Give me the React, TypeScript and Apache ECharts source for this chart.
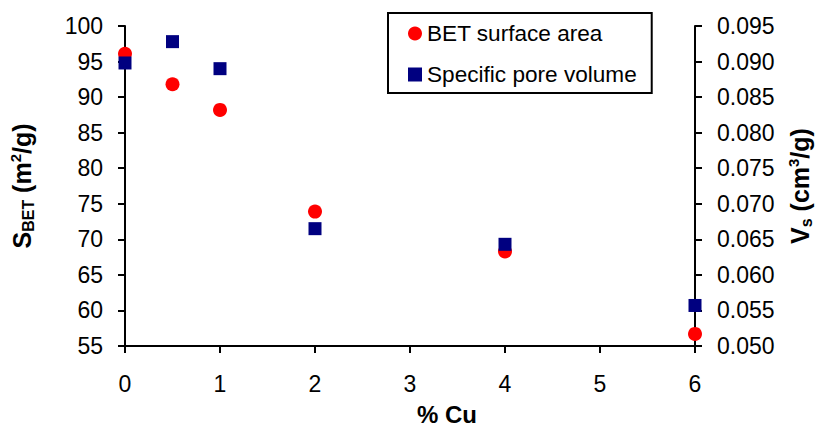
import React, { useEffect, useRef } from "react";
import * as echarts from "echarts";

// Copper loading (%) and the measured textural properties
const cuLoading = [0, 0.5, 1, 2, 4, 6];
const betSurfaceArea = [96.1, 91.8, 88.2, 73.9, 68.3, 56.7]; // m²/g
const specificPoreVolume = [0.0898, 0.0928, 0.089, 0.0665, 0.0643, 0.0557]; // cm³/g

const seriesNames = ["BET surface area", "Specific pore volume"];
const xAxisTitle = "% Cu";

const FONT = "Liberation Sans, Arial, sans-serif";

// Axis titles: bold text with a subscript and a superscript run
const richName = {
  b: { fontSize: 25, fontWeight: "bold", fontFamily: FONT, color: "#000", lineHeight: 28 },
  s: { fontSize: 16, fontWeight: "bold", fontFamily: FONT, color: "#000", lineHeight: 16, verticalAlign: "bottom" },
  sup: { fontSize: 15, fontWeight: "bold", fontFamily: FONT, color: "#000", lineHeight: 16, verticalAlign: "top" },
};

export default function App() {
  const ref = useRef<HTMLDivElement>(null);

  useEffect(() => {
    if (!ref.current) return;
    const chart = echarts.init(ref.current, undefined, { renderer: "svg" });

    const axisLine = { show: true, lineStyle: { color: "#000", width: 2 } };
    const axisTick = { show: true, inside: false, length: 7, lineStyle: { color: "#000", width: 2 } };
    const axisLabel = { color: "#000", fontSize: 23, fontFamily: FONT, margin: 22 };

    chart.setOption({
      animation: false,
      backgroundColor: "#fff",
      textStyle: { fontFamily: FONT },
      grid: {
        left: 125,
        right: 122,
        top: 26,
        bottom: 81,
        containLabel: false,
        outerBoundsMode: "none",
      },
      legend: {
        orient: "vertical",
        left: 388,
        top: 13,
        padding: [9, 15, 7, 20],
        itemGap: 18,
        itemWidth: 14,
        itemHeight: 14,
        borderColor: "#000",
        borderWidth: 2,
        borderRadius: 0,
        backgroundColor: "#fff",
        textStyle: { color: "#000", fontSize: 22.6, fontFamily: FONT },
        data: [
          { name: seriesNames[0], icon: "circle" },
          { name: seriesNames[1], icon: "rect" },
        ],
      },
      xAxis: {
        type: "value",
        min: 0,
        max: 6,
        interval: 1,
        name: xAxisTitle,
        nameLocation: "middle",
        nameGap: 57,
        nameTextStyle: {
          color: "#000",
          fontSize: 24,
          lineHeight: 22,
          fontWeight: "bold",
          fontFamily: FONT,
          padding: [0, 0, 0, 74],
        },
        axisLine,
        axisTick,
        axisLabel: { ...axisLabel, margin: 26 },
        splitLine: { show: false },
      },
      yAxis: [
        {
          type: "value",
          position: "left",
          min: 55,
          max: 100,
          interval: 5,
          name: "{b|S}{s|BET}{b| (m}{sup|2}{b|/g)}",
          nameLocation: "middle",
          nameRotate: 90,
          nameGap: 89,
          nameTextStyle: { rich: richName },
          axisLine,
          axisTick,
          axisLabel,
          splitLine: { show: false },
        },
        {
          type: "value",
          position: "right",
          min: 0.05,
          max: 0.095,
          interval: 0.005,
          name: "{b|V}{s|s}{b| (cm}{sup|3}{b|/g)}",
          nameLocation: "middle",
          nameRotate: 90,
          nameGap: 91,
          nameTextStyle: { rich: richName },
          axisLine,
          axisTick,
          axisLabel: { ...axisLabel, formatter: (v: number) => v.toFixed(3) },
          splitLine: { show: false },
        },
      ],
      series: [
        {
          name: seriesNames[0],
          type: "scatter",
          yAxisIndex: 0,
          symbol: "circle",
          symbolSize: 14,
          clip: false,
          itemStyle: { color: "#FF0000", opacity: 1 },
          data: cuLoading.map((x, i) => [x, betSurfaceArea[i]]),
        },
        {
          name: seriesNames[1],
          type: "scatter",
          yAxisIndex: 1,
          symbol: "rect",
          symbolSize: 13,
          clip: false,
          itemStyle: { color: "#000080", opacity: 1 },
          data: cuLoading.map((x, i) => [x, specificPoreVolume[i]]),
        },
      ],
    });

    return () => chart.dispose();
  }, []);

  return (
    <div
      ref={ref}
      style={{ position: "fixed", left: 0, top: 0, width: 817, height: 427, background: "#fff" }}
    />
  );
}
